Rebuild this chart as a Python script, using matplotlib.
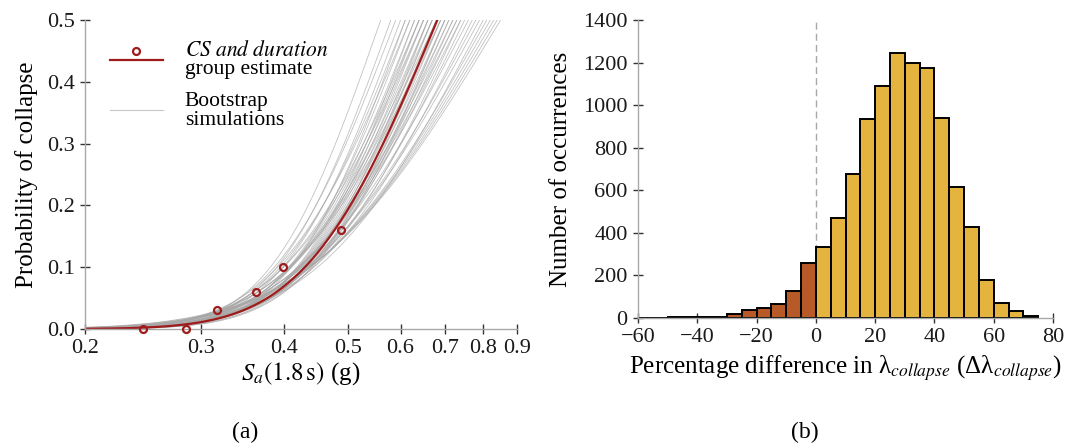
import math
import numpy as np
import matplotlib
matplotlib.use("Agg")
import matplotlib.pyplot as plt
from matplotlib.lines import Line2D
from matplotlib.legend_handler import HandlerLine2DCompound

plt.rcParams['font.family'] = ['Liberation Serif', 'DejaVu Serif']
plt.rcParams['mathtext.fontset'] = 'stix'

# (a) fragility data
sa_obs = [0.245, 0.284, 0.317, 0.363, 0.398, 0.488]
p_obs = [0.0, 0.0, 0.03, 0.06, 0.10, 0.16]
theta_est = 0.682
beta_est = 0.36

# bootstrap medians / dispersions
theta_boot = [0.56, 0.58, 0.59, 0.60, 0.61, 0.61, 0.62, 0.62, 0.63, 0.63,
              0.64, 0.64, 0.64, 0.65, 0.65, 0.65, 0.66, 0.66, 0.66, 0.67,
              0.67, 0.67, 0.68, 0.68, 0.68, 0.69, 0.69, 0.69, 0.70, 0.70,
              0.70, 0.71, 0.71, 0.72, 0.72, 0.73, 0.73, 0.74, 0.74, 0.75,
              0.76, 0.77, 0.78, 0.79, 0.80, 0.81, 0.82, 0.83, 0.84, 0.85]
beta_boot = [0.30, 0.31, 0.33, 0.32, 0.34, 0.31, 0.33, 0.36, 0.34, 0.32,
             0.35, 0.37, 0.33, 0.36, 0.34, 0.38, 0.35, 0.37, 0.33, 0.36,
             0.39, 0.35, 0.37, 0.34, 0.40, 0.36, 0.38, 0.41, 0.37, 0.39,
             0.36, 0.40, 0.38, 0.42, 0.39, 0.41, 0.43, 0.40, 0.44, 0.42,
             0.45, 0.43, 0.46, 0.47, 0.45, 0.48, 0.49, 0.50, 0.51, 0.52]

# (b) histogram
bin_edges = list(range(-60, 80, 5))
counts = [2, 1, 3, 4, 4, 4, 20, 38, 45, 65, 125, 260, 335, 470, 675, 935,
          1090, 1245, 1200, 1175, 940, 615, 430, 180, 70, 32, 8]

RED = '#A01C1C'
GOLD = '#E4B43E'
BROWN = '#B75A27'
SPINE = '#A8A8A8'


def lognorm_cdf(x, theta, beta):
    z = np.log(x / theta) / beta
    return np.array([0.5 * (1 + math.erf(v / math.sqrt(2))) for v in z])


class MarkerAboveLine(HandlerLine2DCompound):
    # legend marker sits a bit above the line, like the original
    def create_artists(self, legend, orig_handle, xdescent, ydescent,
                       width, height, fontsize, trans):
        arts = super().create_artists(legend, orig_handle, xdescent, ydescent,
                                      width, height, fontsize, trans)
        arts[1].set_ydata(np.asarray(arts[1].get_ydata()) + 0.4 * fontsize)
        return arts


fig = plt.figure(figsize=(10.73, 4.47), dpi=100)
ax1 = fig.add_axes([0.0792, 0.264, 0.4026, 0.691])
ax2 = fig.add_axes([0.5946, 0.2886, 0.3868, 0.6664])

# ---- left panel
xs = np.logspace(np.log10(0.2), np.log10(0.9), 300)
for th, be in zip(theta_boot, beta_boot):
    ax1.plot(xs, lognorm_cdf(xs, th, be), color='#A8A8A8', lw=0.6, alpha=0.7)
ax1.plot(xs, lognorm_cdf(xs, theta_est, beta_est), color=RED, lw=1.6)
ax1.plot(sa_obs, p_obs, 'o', mfc='none', mec=RED, mew=1.6, ms=5, clip_on=False, zorder=5)

ax1.set_xscale('log')
ax1.set_xlim(0.2, 0.9)
ax1.set_ylim(0, 0.5)
xt = [0.2, 0.3, 0.4, 0.5, 0.6, 0.7, 0.8, 0.9]
ax1.set_xticks(xt)
ax1.set_xticklabels([str(v) for v in xt])
ax1.xaxis.set_minor_locator(matplotlib.ticker.NullLocator())
ax1.set_yticks([0.0, 0.1, 0.2, 0.3, 0.4, 0.5])
ax1.set_yticklabels(['0.0', '0.1', '0.2', '0.3', '0.4', '0.5'])
ax1.set_xlabel(r'$S_a(1.8\,\mathrm{s})$ (g)', fontsize=18, labelpad=1)
ax1.set_ylabel('Probability of collapse', fontsize=18, labelpad=6)

h_est = Line2D([], [], color=RED, lw=1.6, marker='o', mfc='none', mec=RED, mew=1.6, ms=5)
h_boot = Line2D([], [], color='#C8C8C8', lw=0.8)
leg = ax1.legend([h_est, h_boot],
                 [r'$\it{CS\ and\ duration}$' + '\ngroup estimate', 'Bootstrap\nsimulations'],
                 handler_map={h_est: MarkerAboveLine(numpoints=1)},
                 loc='upper left', bbox_to_anchor=(0.012, 0.995), frameon=False,
                 fontsize=15.5, handlelength=2.5, handletextpad=1.0, labelspacing=0.6)
for t in leg.get_texts():
    t.set_linespacing(0.95)

# ---- right panel
bar_colors = [BROWN if e < 0 else GOLD for e in bin_edges[:-1]]
ax2.axvline(0, color='#A8A8A8', lw=1.0, ls=(0, (5, 3)), zorder=0)
ax2.bar(bin_edges[:-1], counts, width=5, align='edge', color=bar_colors,
        edgecolor='black', linewidth=1.4, zorder=2)
ax2.set_xlim(-60, 80)
ax2.set_ylim(0, 1400)
ax2.set_xticks(range(-60, 81, 20))
ax2.set_yticks(range(0, 1401, 200))
ax2.set_xlabel('Percentage difference in λ$_{collapse}$ (Δλ$_{collapse}$)',
               fontsize=18, labelpad=4)
ax2.set_ylabel('Number of occurrences', fontsize=18, labelpad=8)

for ax in (ax1, ax2):
    for s in ('top', 'right'):
        ax.spines[s].set_visible(False)
    for s in ('left', 'bottom'):
        ax.spines[s].set_color(SPINE)
        ax.spines[s].set_linewidth(1.0)
    ax.tick_params(direction='inout', length=7, width=1.0, color='#333333',
                   labelsize=16, labelcolor='#1a1a1a', pad=4)

fig.text(0.228, 0.02, '(a)', fontsize=17, ha='center')
fig.text(0.750, 0.02, '(b)', fontsize=17, ha='center')

fig.savefig('out.png', dpi=100)
